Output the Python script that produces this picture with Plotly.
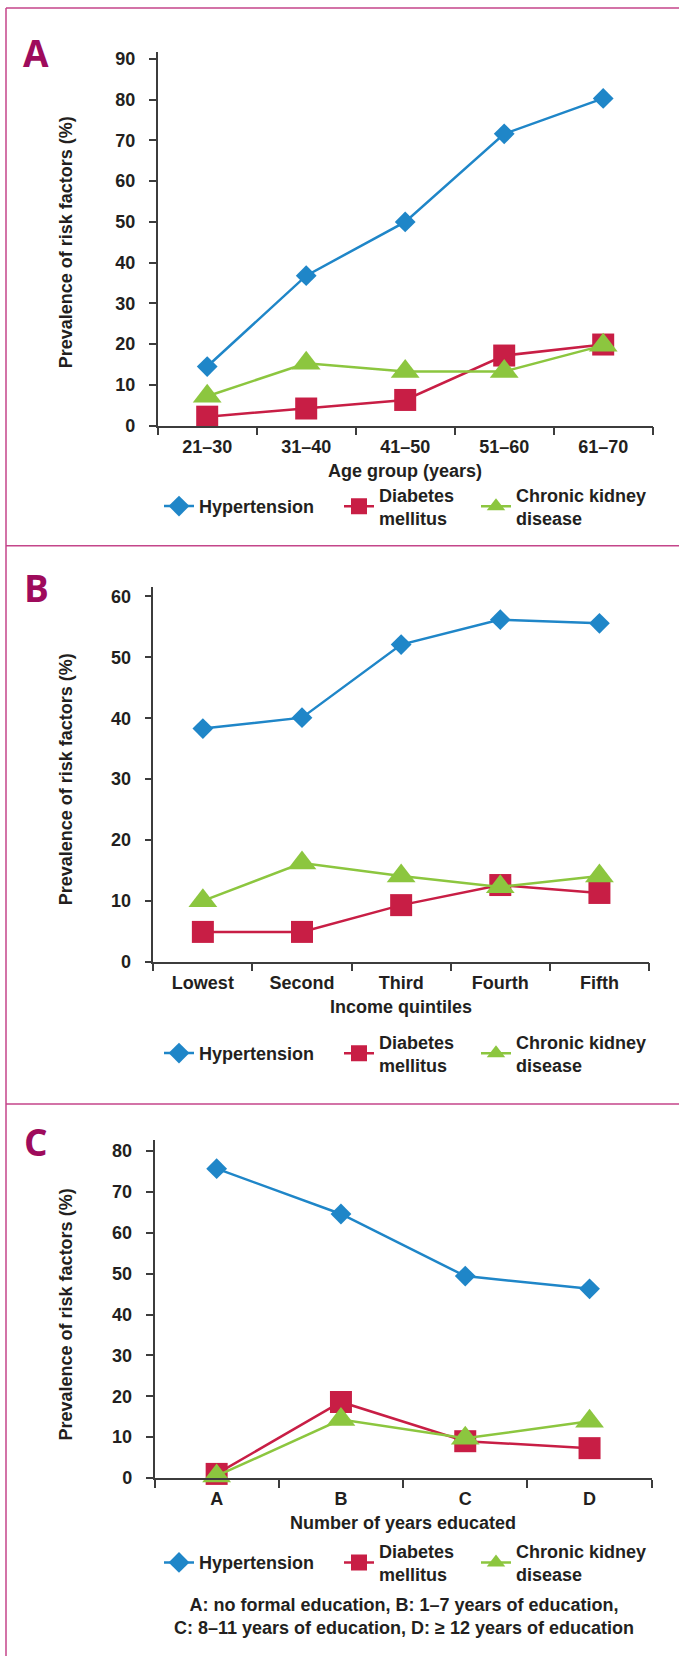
import plotly.graph_objects as go

# ---- data -------------------------------------------------------------
age_groups = ["21–30", "31–40", "41–50", "51–60", "61–70"]
htn_age = [14.5, 36.8, 50.0, 71.6, 80.3]
dm_age = [2.2, 4.2, 6.3, 17.2, 19.9]
ckd_age = [7.2, 15.3, 13.3, 13.3, 19.7]

income_quintiles = ["Lowest", "Second", "Third", "Fourth", "Fifth"]
htn_inc = [38.3, 40.1, 52.1, 56.2, 55.6]
dm_inc = [4.9, 4.9, 9.3, 12.6, 11.3]
ckd_inc = [10.0, 16.2, 14.1, 12.3, 14.1]

edu_groups = ["A", "B", "C", "D"]
htn_edu = [75.7, 64.6, 49.4, 46.3]
dm_edu = [1.0, 18.6, 9.0, 7.3]
ckd_edu = [0.5, 14.3, 9.7, 13.9]

series_names = ["Hypertension", "Diabetes<br>mellitus", "Chronic kidney<br>disease"]
x_titles = ["Age group (years)", "Income quintiles", "Number of years educated"]
y_title = "Prevalence of risk factors (%)"
panel_letters = ["A", "B", "C"]
edu_note = ("A: no formal education, B: 1–7 years of education,<br>"
            "C: 8–11 years of education, D: ≥ 12 years of education")

# ---- styling ----------------------------------------------------------
W, H = 679, 1666
FONT = "Liberation Sans, Arial, sans-serif"
TXT = "#231f20"
AX = "#3c3c3c"
FRAME = "#c4458a"
LETTER = "#9e0b5c"
colors = ["#1f86c8", "#c81e45", "#8cc63f"]
symbols = ["diamond", "square", "triangle-up"]
msizes = [16, 22, 25]


def px(x):
    return x / W


def py(y):
    return 1 - y / H


# pixel geometry of each panel: x-axis span, y of zero, y of axis top, range top
panels = [
    dict(x0=157.7, x1=652.7, ybot=426.7, ytop=49.9, rtop=91.8,
         cats=age_groups, data=[htn_age, dm_age, ckd_age],
         xlab_y=472, leg_y=508, letter_y=51, ytitle_y=242),
    dict(x0=153.3, x1=649.0, ybot=966.7, ytop=589.0, rtop=61.6,
         cats=income_quintiles, data=[htn_inc, dm_inc, ckd_inc],
         xlab_y=1012.7, leg_y=1059, letter_y=590, ytitle_y=783),
    dict(x0=154.5, x1=651.7, ybot=1486.7, ytop=1146.7, rtop=82.6,
         cats=edu_groups, data=[htn_edu, dm_edu, ckd_edu],
         xlab_y=1532, leg_y=1572, letter_y=1148, ytitle_y=1322),
]
legend_x = [159, 339, 476]

fig = go.Figure()
layout = dict(
    width=W, height=H,
    margin=dict(l=0, r=0, t=0, b=0),
    paper_bgcolor="white", plot_bgcolor="white",
    font=dict(family=FONT, size=18, color=TXT, weight="bold"),
    showlegend=True,
)
annotations = []
shapes = []

leg_idx = 0
for p_i, p in enumerate(panels):
    sfx = "" if p_i == 0 else str(p_i + 1)
    xa, ya = "x" + sfx, "y" + sfx
    for s_i in range(3):
        leg_idx += 1
        leg_name = "legend" if leg_idx == 1 else f"legend{leg_idx}"
        fig.add_trace(go.Scatter(
            x=p["cats"], y=p["data"][s_i], name=series_names[s_i],
            mode="lines+markers", xaxis=xa, yaxis=ya,
            line=dict(color=colors[s_i], width=2.5),
            marker=dict(symbol=symbols[s_i], size=msizes[s_i], color=colors[s_i],
                        line=dict(width=0)),
            cliponaxis=False, legend=leg_name,
        ))
        layout[leg_name] = dict(
            x=px(legend_x[s_i]), xanchor="left",
            y=py(p["leg_y"]), yanchor="middle",
            bgcolor="rgba(0,0,0,0)", borderwidth=0,
            font=dict(family=FONT, size=18, color=TXT, weight="bold"),
            valign="middle",
        )

    layout["xaxis" + sfx] = dict(
        domain=[px(p["x0"]), px(p["x1"])], anchor=ya,
        type="category", range=[-0.5, len(p["cats"]) - 0.5],
        showline=True, linecolor=AX, linewidth=1.5,
        ticks="outside", ticklen=8, tickwidth=1.5, tickcolor=AX,
        tickson="boundaries", showgrid=False, zeroline=False,
        ticklabelstandoff=4,
        tickfont=dict(family=FONT, size=18, color=TXT, weight="bold"),
        fixedrange=True,
    )
    layout["yaxis" + sfx] = dict(
        domain=[py(p["ybot"]), py(p["ytop"])], anchor=xa,
        range=[0, p["rtop"]], dtick=10, tick0=0,
        showline=True, linecolor=AX, linewidth=1.5,
        ticks="outside", ticklen=7, tickwidth=1.5, tickcolor=AX,
        showgrid=False, zeroline=False,
        ticklabelstandoff=10,
        tickfont=dict(family=FONT, size=18, color=TXT, weight="bold"),
        fixedrange=True,
    )

    # axis titles
    annotations.append(dict(
        text=x_titles[p_i], xref="paper", yref="paper",
        x=px((p["x0"] + p["x1"]) / 2), y=py(p["xlab_y"]),
        xanchor="center", yanchor="middle", showarrow=False,
        font=dict(family=FONT, size=18, color=TXT, weight="bold"),
    ))
    annotations.append(dict(
        text=y_title, xref="paper", yref="paper",
        x=px(66), y=py(p["ytitle_y"]), textangle=-90,
        xanchor="center", yanchor="middle", showarrow=False,
        font=dict(family=FONT, size=18, color=TXT, weight="bold"),
    ))
    # panel letter
    annotations.append(dict(
        text=panel_letters[p_i], xref="paper", yref="paper",
        x=px(36), y=py(p["letter_y"]),
        xanchor="center", yanchor="middle", showarrow=False,
        font=dict(family="Open Sans, sans-serif", size=37, color=LETTER, weight="bold"),
    ))

# footnote under the education panel
annotations.append(dict(
    text=edu_note, xref="paper", yref="paper",
    x=px(404), y=py(1626), xanchor="center", yanchor="middle",
    showarrow=False, align="center",
    font=dict(family=FONT, size=18, color=TXT, weight="bold"),
))

# frame lines: outer top/left edges and panel dividers
for yy in [6, 547.7, 1110]:
    shapes.append(dict(type="line", xref="paper", yref="paper",
                       x0=px(6), x1=1, y0=py(yy), y1=py(yy),
                       line=dict(color=FRAME, width=1.5)))
shapes.append(dict(type="line", xref="paper", yref="paper",
                   x0=px(6), x1=px(6), y0=py(6), y1=0,
                   line=dict(color=FRAME, width=1.5)))

layout["annotations"] = annotations
layout["shapes"] = shapes
fig.update_layout(**layout)

fig.write_html("out.html")
